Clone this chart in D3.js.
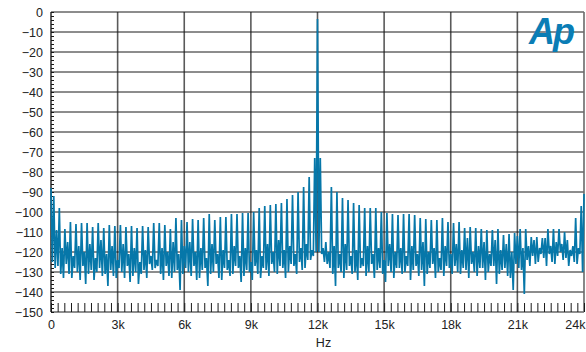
<!DOCTYPE html>
<html>
<head>
<meta charset="utf-8">
<script src="https://cdn.jsdelivr.net/npm/d3@7"></script>
<style>
  body { margin: 0; background: #fff; }
  text { font-family: "Liberation Sans", Arial, sans-serif; }
</style>
</head>
<body>
<div id="chart"></div>
<script>
// fft bins, 62.5 Hz apart, 0 .. 24k
var binHz = 62.5;
var binCount = 385;

// spurs sit on odd multiples of 125 Hz (125, 375, ... 23875)
var spurDb = [
  -92, -98, -108.5, -105, -106, -105.5, -105.5, -107.5, -105.5, -108, -106.5, -107,
  -106.5, -107.5, -107, -108, -107, -107.5, -105.5, -105.5, -106.5, -108.5, -103, -104,
  -105, -103.5, -104, -103, -101, -104, -102.5, -102.5, -101, -101, -100.5, -100.5,
  -100, -98, -97, -96.5, -96, -95.5, -93.5, -91.5, -90, -87.5, -82.5, -73,
  -73, -115, -87.5, -90, -93, -94, -95.5, -96.5, -98, -98, -98, -100,
  -100.5, -101, -101.5, -101, -101, -101.5, -103, -103.5, -104, -104, -103, -105,
  -105.5, -105, -108, -107.5, -108, -108.5, -109, -109, -108.5, -111.5, -111, -110.5,
  -108.5, -108.5, -112.5, -112.5, -113, -108.5, -108.5, -108.5, -110, -119, -103, -97
];

// every other bin: dc, then three bins in each gap between spurs
// (the 12k tone itself is the -3.5 in here)
var floorDb = [
  -88, -125,
  -128,-109,-127, -131,-118,-133, -126,-115,-131, -133,-122,-128,
  -130,-117,-134, -127,-120,-136, -131,-116,-129, -134,-123,-130,
  -128,-114,-132, -131,-121,-137, -129,-117,-132, -133,-124,-128,
  -130,-116,-133, -127,-121,-135, -132,-118,-130, -136,-125,-131,
  -129,-119,-133, -126,-122,-129, -128,-124,-127, -131,-118,-134,
  -127,-120,-132, -133,-115,-130, -129,-121,-139, -131,-117,-128,
  -130,-115,-132, -127,-120,-134, -133,-118,-129, -128,-123,-137,
  -131,-116,-130, -126,-121,-133, -134,-119,-128, -129,-124,-132,
  -131,-117,-127, -128,-122,-135, -132,-118,-129, -130,-125,-134,
  -127,-119,-131, -133,-122,-128, -129,-116,-132, -126,-120,-130,
  -131,-114,-127, -128,-119,-133, -130,-117,-126, -127,-121,-131,
  -125,-118,-129, -128,-116,-124, -124,-119,-122, -120,-3.5,-120,
  -121,-118,-125, -126,-120,-128, -131,-117,-137, -128,-121,-130,
  -133,-116,-129, -127,-122,-131, -130,-119,-134, -128,-123,-127,
  -132,-117,-130, -126,-121,-133, -129,-118,-128, -131,-124,-135,
  -127,-116,-130, -133,-120,-128, -128,-118,-131, -130,-122,-127,
  -134,-117,-129, -127,-121,-132, -129,-115,-137, -131,-120,-128,
  -126,-118,-133, -130,-123,-129, -132,-117,-127, -128,-121,-131,
  -127,-116,-130, -131,-119,-128, -129,-113,-133, -126,-120,-130,
  -132,-117,-128, -128,-115,-134, -130,-121,-127, -127,-114,-136,
  -131,-119,-129, -128,-116,-132, -133,-120,-139, -126,-112,-128,
  -129,-118,-141, -124,-117,-127, -122,-114,-126, -125,-118,-121,
  -123,-113,-127, -121,-117,-125, -126,-115,-122, -120,-116,-124,
  -123,-114,-127, -122,-117,-125, -126,-118,-121,
  -130, -91
];

var xTicks = [0, 3000, 6000, 9000, 12000, 15000, 18000, 21000, 24000];
var xTickLabels = ["0", "3k", "6k", "9k", "12k", "15k", "18k", "21k", "24k"];
var yTicks = [0, -10, -20, -30, -40, -50, -60, -70, -80, -90, -100, -110, -120, -130, -140, -150];

// set the dimensions and margins of the graph
var margin = { top: 12, right: 2, bottom: 40, left: 51 };
var width = 586 - margin.left - margin.right;
var height = 352 - margin.top - margin.bottom;

var svg = d3.select("#chart")
  .append("svg")
  .attr("width", width + margin.left + margin.right)
  .attr("height", height + margin.top + margin.bottom)
  .append("g")
  .attr("transform", "translate(" + margin.left + "," + margin.top + ")");

var x = d3.scaleLinear().domain([0, 24000]).range([0, width]);
var y = d3.scaleLinear().domain([-150, 0]).range([height, 0]);

// merge spur and floor bins back into one spectrum
var data = [];
var s = 0, n = 0;
for (var k = 0; k < binCount; k++) {
  var db = (k % 4 === 2) ? spurDb[s++] : floorDb[n++];
  data.push({ hz: k * binHz, db: db });
}

// grid
svg.append("g")
  .selectAll("line")
  .data(xTicks.slice(1, -1))
  .join("line")
  .attr("x1", d => x(d)).attr("x2", d => x(d))
  .attr("y1", 0).attr("y2", height)
  .attr("stroke", "#5a5a5a")
  .attr("stroke-width", 1.6);

svg.append("g")
  .selectAll("line")
  .data(yTicks)
  .join("line")
  .attr("x1", 0).attr("x2", width)
  .attr("y1", d => y(d)).attr("y2", d => y(d))
  .attr("stroke", "#1a1a1a")
  .attr("stroke-width", 1);

// frame sides
svg.append("line")
  .attr("x1", 0).attr("x2", 0).attr("y1", 0).attr("y2", height)
  .attr("stroke", "#1a1a1a").attr("stroke-width", 1.4);
svg.append("line")
  .attr("x1", width).attr("x2", width).attr("y1", 0).attr("y2", height)
  .attr("stroke", "#6a6a6a").attr("stroke-width", 1.6);

// minor ticks
var leftMinor = svg.append("g")
  .call(d3.axisRight(y).tickValues(d3.range(-150, 1, 2)).tickSize(3).tickFormat(""));
leftMinor.select(".domain").remove();
leftMinor.selectAll("line").attr("stroke", "#1a1a1a");

var bottomMinor = svg.append("g")
  .attr("transform", "translate(0," + height + ")")
  .call(d3.axisTop(x).tickValues(d3.range(0, 24001, 300)).tickSize(9).tickFormat(""));
bottomMinor.select(".domain").remove();
bottomMinor.selectAll("line").attr("stroke", "#1a1a1a");

// the spectrum
svg.append("path")
  .datum(data)
  .attr("fill", "none")
  .attr("stroke", "#0677a9")
  .attr("stroke-width", 1.7)
  .attr("stroke-linejoin", "bevel")
  .attr("d", d3.line()
    .x(d => x(d.hz))
    .y(d => y(d.db))
  );

// Y axis labels
var yAxis = svg.append("g")
  .call(d3.axisLeft(y).tickValues(yTicks).tickSize(0).tickPadding(8)
    .tickFormat(d => d === 0 ? "0" : "\u2212" + (-d)));
yAxis.select(".domain").remove();
yAxis.selectAll("text").attr("font-size", 12.5).attr("fill", "#222")
  .style("font-family", "'Liberation Sans', Arial, sans-serif");

// X axis labels
var xAxis = svg.append("g")
  .attr("transform", "translate(0," + height + ")")
  .call(d3.axisBottom(x).tickValues(xTicks).tickSize(0).tickPadding(8)
    .tickFormat((d, i) => xTickLabels[i]));
xAxis.select(".domain").remove();
xAxis.selectAll("text").attr("font-size", 12.5).attr("fill", "#222")
  .style("font-family", "'Liberation Sans', Arial, sans-serif");
// last label sits flush with the right edge
xAxis.selectAll("text").filter(d => d === 24000)
  .attr("text-anchor", "end")
  .attr("x", 1);

svg.append("text")
  .attr("x", x(12000) + 6)
  .attr("y", height + 35)
  .attr("text-anchor", "middle")
  .attr("font-size", 12.5)
  .attr("fill", "#222")
  .text("Hz");

// Ap logo
svg.append("text")
  .attr("x", 478)
  .attr("y", 32)
  .attr("font-size", 36)
  .attr("font-weight", "bold")
  .attr("font-style", "italic")
  .attr("letter-spacing", -2)
  .attr("fill", "#0a7db5")
  .text("Ap");
</script>
</body>
</html>
